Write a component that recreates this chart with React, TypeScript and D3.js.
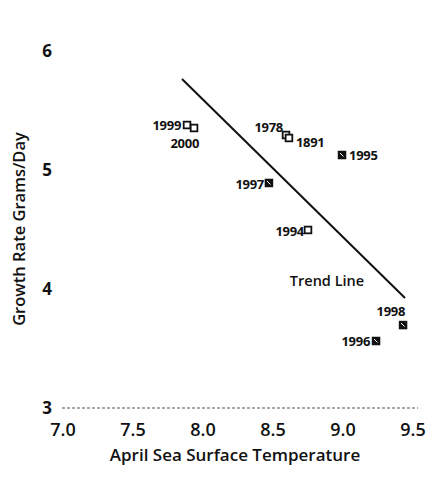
import React from "react";
import * as d3 from "d3";

const years = ["1999", "2000", "1978", "1891", "1995", "1997", "1994", "1998", "1996"];
const seaTemp = [7.886, 7.936, 8.593, 8.614, 8.993, 8.471, 8.75, 9.429, 9.236];
const growthRate = [5.378, 5.353, 5.294, 5.269, 5.126, 4.891, 4.496, 3.697, 3.563];
const filled = [false, false, false, false, true, true, false, true, true];
const trendX = [7.85, 9.443];
const trendY = [5.765, 3.924];
const xTicks = [7.0, 7.5, 8.0, 8.5, 9.0, 9.5];
const yTicks = [3, 4, 5, 6];

// label placement (style only)
const labelPlace: Record<string, { dx: number; dy: number; anchor: string }> = {
  "1999": { dx: -6, dy: 5, anchor: "end" },
  "2000": { dx: 5, dy: 20, anchor: "end" },
  "1978": { dx: -3, dy: -3, anchor: "end" },
  "1891": { dx: 7, dy: 9, anchor: "start" },
  "1995": { dx: 7, dy: 5, anchor: "start" },
  "1997": { dx: -5, dy: 6, anchor: "end" },
  "1994": { dx: -4, dy: 6, anchor: "end" },
  "1998": { dx: 2, dy: -9, anchor: "end" },
  "1996": { dx: -6, dy: 5, anchor: "end" },
};

const W = 433;
const H = 477;
const FONT = "'Open Sans', 'DejaVu Sans', sans-serif";

export default function App() {
  const x = d3.scaleLinear().domain([7, 9.5]).range([63, 413]);
  const y = d3.scaleLinear().domain([3, 6]).range([408, 51]);
  const line = d3.line<number>().x((d) => x(trendX[d])).y((d) => y(trendY[d]));
  const s = 8.5;

  return (
    <svg
      width={W}
      height={H}
      style={{ position: "absolute", left: 0, top: 0, background: "#fff" }}
      fontFamily={FONT}
    >
      <rect width={W} height={H} fill="#fff" />
      {/* baseline */}
      <line x1={62} x2={418} y1={y(3)} y2={y(3)} stroke="#555" strokeWidth={1} strokeDasharray="3,2" />
      {/* y ticks */}
      {yTicks.map((t) => (
        <text key={t} x={47} y={y(t)} dy="0.36em" textAnchor="middle" fontSize={17} fontWeight={700} fill="#111">
          {t}
        </text>
      ))}
      {/* x ticks */}
      {xTicks.map((t) => (
        <text key={t} x={x(t)} y={436} textAnchor="middle" fontSize={18} fontWeight={600} fill="#111">
          {t.toFixed(1)}
        </text>
      ))}
      <text x={235} y={461} textAnchor="middle" fontSize={17} fontWeight={600} fill="#111">
        April Sea Surface Temperature
      </text>
      <text
        transform={`translate(25,229) rotate(-90)`}
        textAnchor="middle"
        fontSize={16.5}
        fontWeight={600}
        fill="#111"
      >
        Growth Rate Grams/Day
      </text>
      {/* trend line */}
      <path d={line([0, 1]) || ""} fill="none" stroke="#111" strokeWidth={2} />
      <text x={327} y={286} textAnchor="middle" fontSize={14.5} fontWeight={600} fill="#111">
        Trend Line
      </text>
      {/* points */}
      {years.map((yr, i) => {
        const cx = x(seaTemp[i]);
        const cy = y(growthRate[i]);
        const p = labelPlace[yr];
        return (
          <g key={yr}>
            {filled[i] ? (
              <g>
                <rect x={cx - s / 2} y={cy - s / 2} width={s} height={s} fill="#111" />
                <path
                  d={`M${cx - 2},${cy - 2}L${cx + 1.5},${cy + 1.5}`}
                  stroke="#fff"
                  strokeWidth={1}
                />
              </g>
            ) : (
              <rect
                x={cx - s / 2 + 0.9}
                y={cy - s / 2 + 0.9}
                width={s - 1.8}
                height={s - 1.8}
                fill="#fff"
                stroke="#111"
                strokeWidth={1.8}
              />
            )}
            <text
              x={cx + p.dx}
              y={cy + p.dy}
              textAnchor={p.anchor as any}
              fontSize={13}
              fontWeight={700}
              letterSpacing={-0.3}
              fill="#111"
            >
              {yr}
            </text>
          </g>
        );
      })}
    </svg>
  );
}
